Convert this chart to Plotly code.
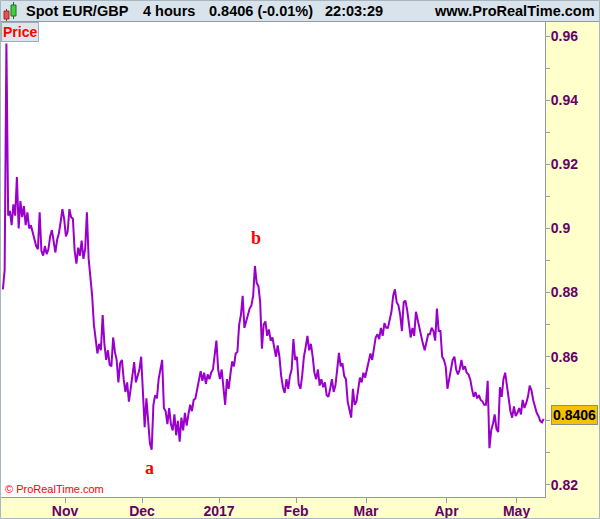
import pandas as pd
import plotly.graph_objects as go

# ---- data: EUR/GBP, two readings per trading day ----
oct_2016 = [0.8810, 0.8870, 0.9577, 0.9040, 0.9055, 0.9010, 0.9075, 0.9040,
            0.9160, 0.9000, 0.9085, 0.9035, 0.9070, 0.9010, 0.9050, 0.9000,
            0.9010, 0.8985, 0.8960, 0.8945, 0.8935, 0.9050, 0.8930, 0.8915,
            0.8945, 0.8920, 0.8935, 0.8975, 0.8995, 0.8955, 0.8925, 0.8965,
            0.8985, 0.9020, 0.9060, 0.9030]
nov_2016 = [0.8975, 0.8990, 0.9060, 0.9035, 0.9030, 0.8930, 0.8890, 0.8940,
            0.8915, 0.8962, 0.8905, 0.8935, 0.9050, 0.8905, 0.8850, 0.8790,
            0.8700, 0.8660, 0.8610, 0.8640, 0.8620, 0.8730, 0.8640, 0.8590,
            0.8620, 0.8575, 0.8570, 0.8660, 0.8615, 0.8590, 0.8520, 0.8580,
            0.8590, 0.8530, 0.8490, 0.8520, 0.8460, 0.8500, 0.8540, 0.8583,
            0.8520, 0.8545, 0.8560, 0.8600]
dec_2016 = [0.8490, 0.8380, 0.8470, 0.8410, 0.8330, 0.8310, 0.8450, 0.8480,
            0.8470, 0.8530, 0.8560, 0.8590, 0.8440, 0.8430, 0.8390, 0.8440,
            0.8390, 0.8370, 0.8420, 0.8355, 0.8400, 0.8335, 0.8410, 0.8370,
            0.8425, 0.8385, 0.8420, 0.8450, 0.8430, 0.8465, 0.8470, 0.8500,
            0.8530, 0.8555, 0.8525, 0.8550, 0.8515, 0.8545, 0.8530, 0.8550,
            0.8560, 0.8600, 0.8650, 0.8560]
jan_2017 = [0.8530, 0.8560, 0.8510, 0.8450, 0.8530, 0.8500, 0.8545, 0.8585,
            0.8570, 0.8610, 0.8615, 0.8700, 0.8730, 0.8790, 0.8690, 0.8710,
            0.8725, 0.8750, 0.8760, 0.8790, 0.8883, 0.8830, 0.8820, 0.8770,
            0.8625, 0.8700, 0.8710, 0.8665, 0.8685, 0.8650, 0.8660, 0.8630,
            0.8600, 0.8635, 0.8600, 0.8540, 0.8505, 0.8487, 0.8530, 0.8500,
            0.8540, 0.8560, 0.8655, 0.8590]
feb_2017 = [0.8600, 0.8515, 0.8500, 0.8540, 0.8600, 0.8630, 0.8665, 0.8620,
            0.8640, 0.8600, 0.8550, 0.8530, 0.8560, 0.8510, 0.8530, 0.8505,
            0.8520, 0.8480, 0.8475, 0.8500, 0.8530, 0.8490, 0.8510, 0.8560,
            0.8612, 0.8570, 0.8580, 0.8540, 0.8530, 0.8460, 0.8430, 0.8410,
            0.8500, 0.8450, 0.8460, 0.8500, 0.8535, 0.8520, 0.8550, 0.8535]
mar_2017 = [0.8560, 0.8585, 0.8610, 0.8590, 0.8625, 0.8660, 0.8670, 0.8655,
            0.8690, 0.8665, 0.8705, 0.8690, 0.8690, 0.8715, 0.8740, 0.8790,
            0.8810, 0.8770, 0.8760, 0.8730, 0.8680, 0.8770, 0.8775, 0.8745,
            0.8700, 0.8660, 0.8690, 0.8665, 0.8740, 0.8715, 0.8680, 0.8660,
            0.8640, 0.8620, 0.8650, 0.8670, 0.8670, 0.8690, 0.8680, 0.8650,
            0.8750, 0.8680, 0.8680, 0.8600, 0.8590, 0.8570]
apr_2017 = [0.8500, 0.8530, 0.8550, 0.8590, 0.8600, 0.8560, 0.8545, 0.8560,
            0.8590, 0.8560, 0.8570, 0.8550, 0.8545, 0.8530, 0.8500, 0.8475,
            0.8490, 0.8470, 0.8480, 0.8465, 0.8460, 0.8450, 0.8450, 0.8525,
            0.8315, 0.8370, 0.8390, 0.8420, 0.8375, 0.8365, 0.8505, 0.8475,
            0.8530, 0.8550, 0.8510, 0.8465, 0.8430, 0.8410, 0.8445, 0.8415]
may_2017 = [0.8425, 0.8440, 0.8420, 0.8465, 0.8440, 0.8455, 0.8475, 0.8510,
            0.8495, 0.8465, 0.8445, 0.8425, 0.8415, 0.8400, 0.8395, 0.8406]

first_day = "2016-10-06"
last_day = "2017-05-10"
last_price = 0.8406

month_ticks = ["2016-11-01", "2016-12-01", "2017-01-02", "2017-02-01",
               "2017-03-01", "2017-04-03", "2017-05-01"]
month_labels = ["Nov", "Dec", "2017", "Feb", "Mar", "Apr", "May"]

price_ticks = [0.82, 0.84, 0.86, 0.88, 0.90, 0.92, 0.94, 0.96]
price_labels = ["0.82", "", "0.86", "0.88", "0.9", "0.92", "0.94", "0.96"]
price_minor = [0.83, 0.85, 0.87, 0.89, 0.91, 0.93, 0.95]

wave_labels = ["a", "b"]
wave_x = ["2016-12-05 00:00", "2017-01-16 12:00"]
wave_y = [0.8253, 0.8969]

header_items = ["Spot EUR/GBP", "4 hours", "0.8406 (-0.01%)", "22:03:29"]

# ---- build series ----
closes = (oct_2016 + nov_2016 + dec_2016 + jan_2017 + feb_2017 +
          mar_2017 + apr_2017 + may_2017)
days = pd.bdate_range(first_day, last_day)
times = []
for d in days:
    times += [d + pd.Timedelta(hours=6), d + pd.Timedelta(hours=18)]
assert len(times) == len(closes), (len(times), len(closes))

W, H = 600, 519
ML, MR, MT, MB = 1, 55, 22, 22
PW, PH = W - ML - MR, H - MT - MB


def px(x):
    return (x - ML) / PW


def py(y):
    return (H - MB - y) / PH


FONT = "Liberation Sans"
PURPLE = "#660066"
GRAY = "#8d9ca8"

fig = go.Figure()
fig.add_trace(go.Scatter(x=times, y=closes, mode="lines",
                         line=dict(color="#9900cc", width=2),
                         hoverinfo="skip"))

fig.update_layout(
    width=W, height=H,
    margin=dict(l=ML, r=MR, t=MT, b=MB, pad=0, autoexpand=False),
    paper_bgcolor="#ffffcc", plot_bgcolor="white",
    showlegend=False,
    xaxis=dict(
        type="date", automargin=False,
        range=["2016-10-05 17:00", "2017-05-11 03:00"],
        rangebreaks=[dict(bounds=["sat", "mon"])],
        tickmode="array", tickvals=month_ticks, ticktext=month_labels,
        ticks="outside", ticklen=5, tickcolor=GRAY,
        ticklabelstandoff=-4,
        showline=True, mirror=True, linecolor=GRAY, linewidth=1,
        showgrid=False, zeroline=False,
        tickfont=dict(family=FONT, size=14, color=PURPLE, weight="bold"),
    ),
    yaxis=dict(
        side="right", automargin=False,
        range=[0.81625, 0.96437],
        tickmode="array", tickvals=price_ticks, ticktext=price_labels,
        ticks="outside", ticklen=4, tickcolor=GRAY,
        ticklabelstandoff=-2,
        minor=dict(tickmode="array", tickvals=price_minor, ticks="outside",
                   ticklen=4, tickcolor=GRAY),
        showline=True, mirror=True, linecolor=GRAY, linewidth=1,
        showgrid=False, zeroline=False,
        tickfont=dict(family=FONT, size=14, color=PURPLE, weight="bold"),
    ),
)

shapes = []
# header band
shapes.append(dict(type="rect", xref="paper", yref="paper",
                   x0=px(0), x1=px(W), y0=py(21.5), y1=py(0),
                   fillcolor="#d8e3eb", line=dict(width=0), layer="below"))
shapes.append(dict(type="line", xref="paper", yref="paper",
                   x0=px(0), x1=px(W), y0=py(21.5), y1=py(21.5),
                   line=dict(color=GRAY, width=1)))
# outer frame
shapes.append(dict(type="rect", xref="paper", yref="paper",
                   x0=px(0.5), x1=px(599.5), y0=py(518.5), y1=py(0.5),
                   line=dict(color="#a9b6c0", width=1)))
# candle icon
shapes.append(dict(type="line", xref="paper", yref="paper",
                   x0=px(6.5), x1=px(6.5), y0=py(9), y1=py(21),
                   line=dict(color="#803030", width=1)))
shapes.append(dict(type="rect", xref="paper", yref="paper",
                   x0=px(4), x1=px(9), y0=py(11), y1=py(19),
                   fillcolor="#e85050", line=dict(color="#903030", width=1)))
shapes.append(dict(type="line", xref="paper", yref="paper",
                   x0=px(13.5), x1=px(13.5), y0=py(2), y1=py(19),
                   line=dict(color="#206020", width=1)))
shapes.append(dict(type="rect", xref="paper", yref="paper",
                   x0=px(11), x1=px(16), y0=py(5), y1=py(16),
                   fillcolor="#40d040", line=dict(color="#207020", width=1)))
fig.update_layout(shapes=shapes)

ann = []
header_x = [24, 141, 207, 323]
for txt, hx in zip(header_items, header_x):
    ann.append(dict(text=txt, xref="paper", yref="paper", x=px(hx), y=py(11),
                    xanchor="left", yanchor="middle", showarrow=False,
                    font=dict(family=FONT, size=14.5, color="black", weight="bold")))
ann.append(dict(text="www.ProRealTime.com", xref="paper", yref="paper",
                x=px(597), y=py(11), xanchor="right", yanchor="middle",
                showarrow=False,
                font=dict(family=FONT, size=14.5, color="black", weight="bold")))
ann.append(dict(text="Price", xref="paper", yref="paper", x=0, y=1,
                xanchor="left", yanchor="top", showarrow=False,
                bgcolor="#dfe6eb", bordercolor="#a0acb6", borderwidth=1,
                borderpad=1,
                font=dict(family=FONT, size=14, color="#ff0000", weight="bold")))
ann.append(dict(text="© ProRealTime.com", xref="paper", yref="paper",
                x=px(3), y=py(489), xanchor="left", yanchor="middle",
                showarrow=False,
                font=dict(family=FONT, size=11, color="#ff0000")))
ann.append(dict(text=f"{last_price:.4f}", xref="paper", yref="y",
                x=1, y=last_price, xanchor="left", yanchor="middle",
                xshift=6, yshift=4, showarrow=False,
                bgcolor="#f5c200", bordercolor="#8c8c8c", borderwidth=1,
                borderpad=1,
                font=dict(family=FONT, size=14, color="black", weight="bold")))
for t, wx, wy in zip(wave_labels, wave_x, wave_y):
    ann.append(dict(text=t, x=wx, y=wy, xref="x", yref="y", showarrow=False,
                    font=dict(family="Liberation Serif", size=18,
                              color="#ff0000", weight="bold")))
fig.update_layout(annotations=ann)

fig.write_html(
    "out.html",
    config={"displayModeBar": False},
    post_script="document.body.style.margin='0';document.body.style.padding='0';",
)
